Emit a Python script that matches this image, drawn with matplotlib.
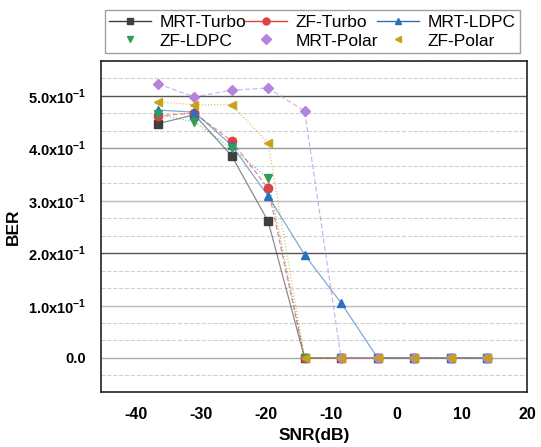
import matplotlib.pyplot as plt
from matplotlib.lines import Line2D
from matplotlib.ticker import FixedLocator, FixedFormatter, MultipleLocator
import numpy as np

plt.rcParams['font.family'] = ['Liberation Sans', 'DejaVu Sans']
plt.rcParams['mathtext.fontset'] = 'custom'
plt.rcParams['mathtext.rm'] = 'Liberation Sans:bold'
plt.rcParams['mathtext.bf'] = 'Liberation Sans:bold'
plt.rcParams['axes.unicode_minus'] = False

snr = [-36.6, -31.0, -25.3, -19.7, -14.1, -8.5, -2.9, 2.7, 8.3, 13.9]

mrt_turbo = [0.447, 0.464, 0.386, 0.261, 0.0, 0.0, 0.0, 0.0, 0.0, 0.0]
zf_turbo = [0.462, 0.467, 0.414, 0.324, 0.0, 0.0, 0.0, 0.0, 0.0, 0.0]
mrt_ldpc = [0.473, 0.469, 0.406, 0.309, 0.197, 0.105, 0.0, 0.0, 0.0, 0.0]
zf_ldpc = [0.465, 0.450, 0.400, 0.343, 0.0, 0.0, 0.0, 0.0, 0.0, 0.0]
mrt_polar = [0.523, 0.498, 0.511, 0.515, 0.471, 0.0, 0.0, 0.0, 0.0, 0.0]
zf_polar = [0.489, 0.483, 0.483, 0.410, 0.0, 0.0, 0.0, 0.0, 0.0, 0.0]

y_ticks = [0.0, 0.1, 0.2, 0.3, 0.4, 0.5]
y_labels = ['0.0', '1.0x10$^{-1}$', '2.0x10$^{-1}$', '3.0x10$^{-1}$',
            '4.0x10$^{-1}$', '5.0x10$^{-1}$']

# name, values, colour, marker, linestyle, line shown in legend
series = [
    ('MRT-Turbo', mrt_turbo, '#3f3f3f', 's', '-', True),
    ('ZF-Turbo', zf_turbo, '#e0403f', 'o', (0, (4, 2)), True),
    ('MRT-LDPC', mrt_ldpc, '#2a6fc0', '^', '-', True),
    ('ZF-LDPC', zf_ldpc, '#2f9d5c', 'v', (0, (1, 1.5)), False),
    ('MRT-Polar', mrt_polar, '#b583dc', 'D', (0, (4, 2)), False),
    ('ZF-Polar', zf_polar, '#c9a018', '<', (0, (1, 1.5)), False),
]

fig = plt.figure(figsize=(5.41, 4.47), dpi=100)
ax = fig.add_axes([0.187, 0.123, 0.787, 0.741])

handles = []
for name, vals, color, marker, ls, show_line in series:
    ms = 5 if marker == 'D' else 6
    ax.plot(snr, vals, color=color, linestyle=ls, linewidth=0.9, alpha=0.6)
    ax.plot(snr, vals, color=color, linestyle='none', marker=marker,
            markersize=ms)
    handles.append(Line2D([], [], color=color, marker=marker, markersize=5,
                          linestyle='-' if show_line else 'none',
                          linewidth=1.0, label=name))

ax.set_xlim(-45.3, 20)
ax.set_ylim(-0.065, 0.567)
ax.xaxis.set_major_locator(MultipleLocator(10))
ax.yaxis.set_major_locator(FixedLocator(y_ticks))
ax.yaxis.set_major_formatter(FixedFormatter(y_labels))
ax.yaxis.set_minor_locator(MultipleLocator(0.1 / 3))
ax.tick_params(which='both', length=0)
ax.tick_params(axis='x', pad=11, labelsize=11.5)
ax.tick_params(axis='y', pad=11, labelsize=10.5)
for lbl in ax.get_xticklabels() + ax.get_yticklabels():
    lbl.set_fontweight('bold')

# gridlines
for y, col in [(0.5, '#555555'), (0.4, '#999999'), (0.3, '#bbbbbb'),
               (0.2, '#555555'), (0.1, '#bbbbbb'), (0.0, '#aaaaaa')]:
    ax.axhline(y, color=col, linewidth=1.0, zorder=0)
ax.grid(True, which='minor', axis='y', color='#d0d0d0', linestyle='--',
        linewidth=0.8, zorder=0)

for sp in ax.spines.values():
    sp.set_linewidth(1.2)
    sp.set_color('#222222')

ax.set_xlabel('SNR(dB)', fontsize=12.5, fontweight='bold', labelpad=4)
ax.set_ylabel('BER', fontsize=12.5, fontweight='bold', labelpad=5)

# legend filled column by column, so reorder to read row by row
order = [0, 3, 1, 4, 2, 5]
leg = ax.legend(handles=[handles[i] for i in order], ncol=3,
                loc='lower left',
                bbox_to_anchor=(0.009, 1.024, 0.974, 0.15), mode='expand',
                borderaxespad=0, fontsize=12.5, fancybox=False, frameon=True,
                handlelength=2.4, handletextpad=0.5, columnspacing=0.8,
                borderpad=0.25, labelspacing=0.2)
leg.get_frame().set_edgecolor('#888888')
leg.get_frame().set_linewidth(1.0)

fig.savefig('out.png', dpi=100)
